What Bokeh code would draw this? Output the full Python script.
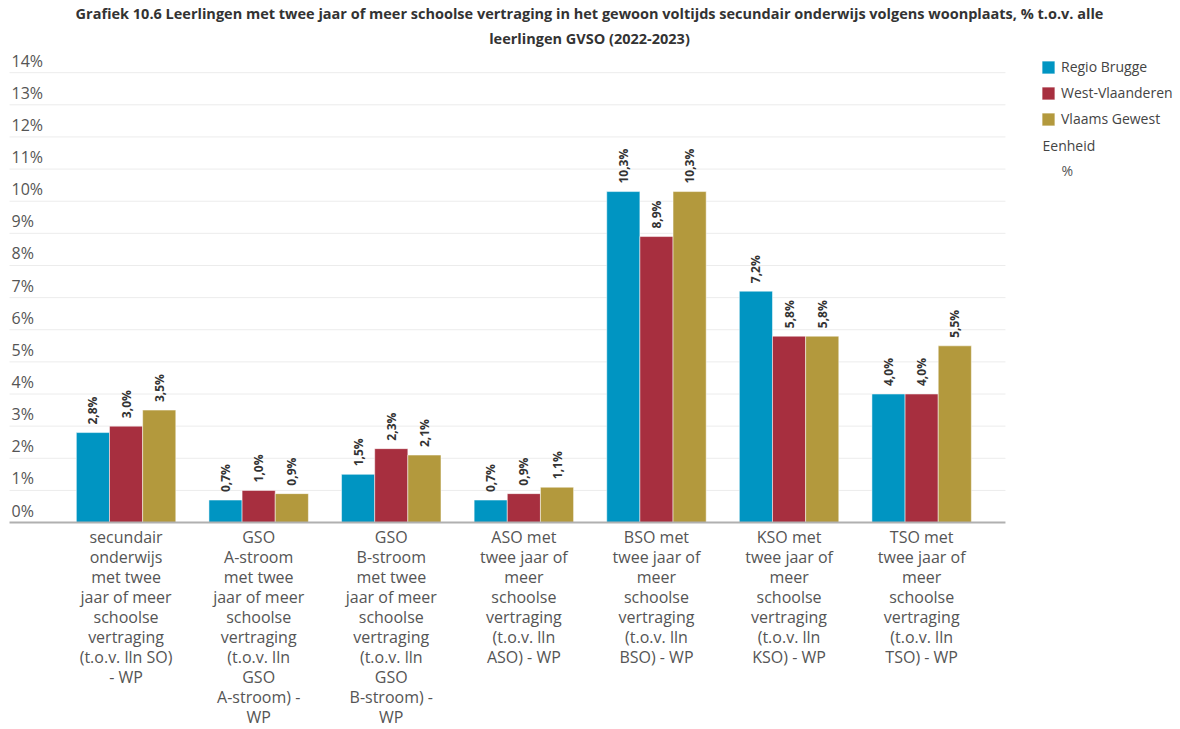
import math
from bokeh.plotting import figure
from bokeh.models import (ColumnDataSource, Range1d, Label, Legend, LegendItem, Title)
from bokeh.core.properties import value
from bokeh.embed import file_html
from bokeh.resources import INLINE

# ---- data ----
category_labels = [
    "secundair\nonderwijs\nmet twee\njaar of meer\nschoolse\nvertraging\n(t.o.v. lln SO)\n- WP",
    "GSO\nA-stroom\nmet twee\njaar of meer\nschoolse\nvertraging\n(t.o.v. lln\nGSO\nA-stroom) -\nWP",
    "GSO\nB-stroom\nmet twee\njaar of meer\nschoolse\nvertraging\n(t.o.v. lln\nGSO\nB-stroom) -\nWP",
    "ASO met\ntwee jaar of\nmeer\nschoolse\nvertraging\n(t.o.v. lln\nASO) - WP",
    "BSO met\ntwee jaar of\nmeer\nschoolse\nvertraging\n(t.o.v. lln\nBSO) - WP",
    "KSO met\ntwee jaar of\nmeer\nschoolse\nvertraging\n(t.o.v. lln\nKSO) - WP",
    "TSO met\ntwee jaar of\nmeer\nschoolse\nvertraging\n(t.o.v. lln\nTSO) - WP",
]
series_names = ["Regio Brugge", "West-Vlaanderen", "Vlaams Gewest"]
regio_brugge = [2.8, 0.7, 1.5, 0.7, 10.3, 7.2, 4.0]
west_vlaanderen = [3.0, 1.0, 2.3, 0.9, 8.9, 5.8, 4.0]
vlaams_gewest = [3.5, 0.9, 2.1, 1.1, 10.3, 5.8, 5.5]
y_ticks = list(range(0, 15))
y_tick_labels = [f"{t}%" for t in y_ticks]
title_line1 = ("Grafiek 10.6 Leerlingen met twee jaar of meer schoolse vertraging in het gewoon voltijds "
               "secundair onderwijs volgens woonplaats, % t.o.v. alle")
title_line2 = "leerlingen GVSO (2022-2023)"

colors = ["#0095C2", "#A72F3F", "#B3993D"]
series = [regio_brugge, west_vlaanderen, vlaams_gewest]
offsets = [-0.25, 0.0, 0.25]
FONT = "Open Sans"

# plot-area extents (data units)
GRID_X0, GRID_X1 = -0.879, 6.632

p = figure(width=1178, height=729, output_backend="svg", toolbar_location=None,
           x_range=Range1d(-0.947, 7.937), y_range=Range1d(-6.44, 14.69),
           min_border_left=0, min_border_right=0, min_border_bottom=0, min_border_top=8)
p.title = None
p.add_layout(Title(text=title_line2, align="center", text_font=FONT, text_font_size="14.5px",
                   text_font_style="bold", text_color="#333333", standoff=6), "above")
p.add_layout(Title(text=title_line1, align="center", text_font=FONT, text_font_size="14.5px",
                   text_font_style="bold", text_color="#333333", standoff=2), "above")

p.outline_line_color = None
p.xgrid.visible = False
p.ygrid.visible = False
p.xaxis.visible = False
p.yaxis.visible = False

# gridlines
p.segment(x0=[GRID_X0] * len(y_ticks[1:]), x1=[GRID_X1] * len(y_ticks[1:]),
          y0=y_ticks[1:], y1=y_ticks[1:], line_color="#ececec", line_width=1)
# y labels, above their gridlines
ysrc = ColumnDataSource(dict(y=y_ticks, t=y_tick_labels, x=[GRID_X0] * len(y_ticks)))
p.text(x="x", y="y", text="t", source=ysrc, x_offset=2, y_offset=-1,
       text_font=value(FONT), text_font_size="16px", text_color="#555555",
       text_baseline="bottom", text_align="left")

items = []
for name, vals, col, off in zip(series_names, series, colors, offsets):
    xs = [i + off for i in range(len(vals))]
    src = ColumnDataSource(dict(x=xs, top=vals,
                                lab=[f"{v:.1f}".replace(".", ",") + "%" for v in vals]))
    r = p.vbar(x="x", top="top", width=0.25, source=src, fill_color=col,
               line_color="white", line_alpha=0.5, line_width=1)
    p.text(x="x", y="top", text="lab", source=src, angle=math.pi / 2,
           text_align="left", text_baseline="middle", y_offset=-8,
           text_font=value(FONT), text_font_size="12px", text_font_style="bold",
           text_color="#333333")
    items.append(LegendItem(label=name, renderers=[r]))

# x axis line
p.segment(x0=[GRID_X0], x1=[GRID_X1], y0=[0], y1=[0], line_color="#b0b0b0", line_width=2)

# category labels
csrc = ColumnDataSource(dict(x=list(range(len(category_labels))), y=[0] * len(category_labels),
                             t=category_labels))
p.text(x="x", y="y", text="t", source=csrc, y_offset=3, text_align="center",
       text_baseline="top", text_font=value(FONT), text_font_size="16px",
       text_color="#555555", text_line_height=0.91)

legend = Legend(items=items, location=(1040, 601), orientation="vertical",
                glyph_width=16, glyph_height=16, label_standoff=5, spacing=7,
                padding=0, margin=0, border_line_color=None, background_fill_alpha=0,
                label_text_font=FONT, label_text_font_size="14px", label_text_color="#444444")
p.add_layout(legend)

p.add_layout(Label(x=1042, y=584, x_units="screen", y_units="screen", text="Eenheid",
                   text_font=FONT, text_font_size="14px", text_color="#444444",
                   text_baseline="middle"))
p.add_layout(Label(x=1061, y=559, x_units="screen", y_units="screen", text="%",
                   text_font=FONT, text_font_size="14px", text_color="#555555",
                   text_baseline="middle"))

open("out.html", "w").write(file_html(p, INLINE))
